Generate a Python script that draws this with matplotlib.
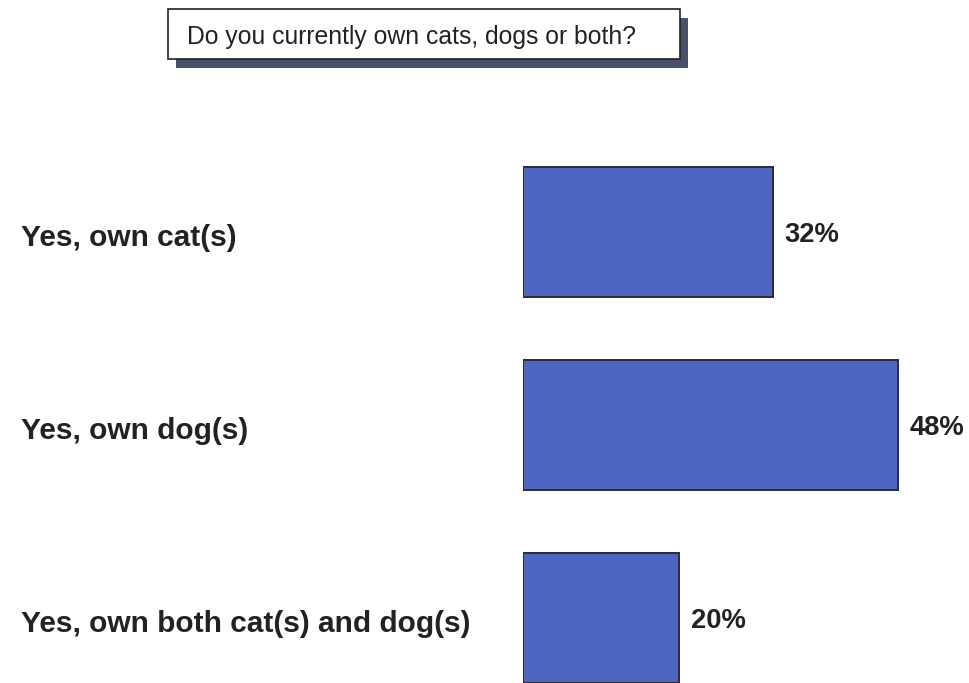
import matplotlib.pyplot as plt
from matplotlib.patches import Rectangle
from matplotlib.transforms import blended_transform_factory

categories = ["Yes, own cat(s)", "Yes, own dog(s)", "Yes, own both cat(s) and dog(s)"]
shares = [32, 48, 20]
value_labels = ["32%", "48%", "20%"]
question = "Do you currently own cats, dogs or both?"

plt.rcParams["font.family"] = ["Liberation Sans", "DejaVu Sans"]

W, H = 969, 683
fig = plt.figure(figsize=(W / 100, H / 100), dpi=100)

# bars start at x=523 px, ~7.81 px per percent
x0 = 523
px_per_pct = 7.81
ax = fig.add_axes([x0 / W, 0, (W - x0) / W, 1])
ax.set_xlim(0, (W - x0) / px_per_pct)
# bar centres at 232, 425, 618 px from the top, 193 px apart
step = 193
ax.set_ylim(2 + (H - 618) / step, -232 / step)
ax.axis("off")

ypos = list(range(len(categories)))
ax.barh(ypos, shares, height=130 / step, color="#4E66C2",
        edgecolor="#2b2b33", linewidth=1.4)

# text baselines sit a little below the bar centres
for y, v, lab in zip(ypos, shares, value_labels):
    ax.text(v + 1.5, y + 10 / step, lab, ha="left", va="baseline", fontsize=19.7,
            fontweight="bold", color="#222222")

trans = blended_transform_factory(fig.transFigure, ax.transData)
for y, cat in zip(ypos, categories):
    ax.text(21 / W, y + 14 / step, cat, transform=trans, ha="left", va="baseline",
            fontsize=21.5, fontweight="bold", color="#222222", clip_on=False)

# question box with drop shadow
bx, by, bw, bh = 168, 9, 512, 50
fig.patches.append(Rectangle(((bx + 8) / W, 1 - (by + bh + 9) / H), bw / W, bh / H,
                             transform=fig.transFigure, facecolor="#4a5068",
                             edgecolor="none", zorder=1))
fig.patches.append(Rectangle((bx / W, 1 - (by + bh) / H), bw / W, bh / H,
                             transform=fig.transFigure, facecolor="white",
                             edgecolor="#222222", linewidth=1.2, zorder=2))
fig.text((bx + 19) / W, 1 - 44 / H, question, ha="left", va="baseline",
         fontsize=17.8, color="#222222", zorder=3)

fig.savefig("out.png", dpi=100)
